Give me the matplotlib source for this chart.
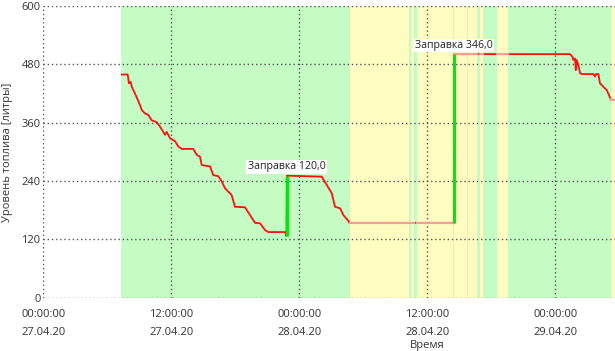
import numpy as np
import matplotlib
matplotlib.use("Agg")
import matplotlib.pyplot as plt
import matplotlib.transforms as mtransforms

plt.rcParams["font.family"] = ["Open Sans", "DejaVu Sans"]

# fuel level, hours since 27.04.20 00:00 -> litres
fuel_h = [7.35, 7.91, 8.03, 8.19, 8.29, 8.66, 9.07, 9.23, 9.53, 9.84, 10.16,
          10.63, 10.94, 11.41, 11.57, 11.88, 12.35, 12.66, 12.98, 14.06, 14.38,
          14.69, 14.85, 15.63, 15.94, 16.41, 16.73, 17.04, 17.35, 17.66, 17.97,
          18.91, 19.38, 19.85, 20.32, 20.79, 21.10, 22.66, 22.80,
          22.84, 26.10, 26.57, 27.04, 27.35, 27.82, 28.13, 28.60, 28.69,
          38.50, 38.52, 49.19, 49.38, 49.60, 49.69, 49.85, 49.92, 50.01,
          50.16, 50.32, 50.48, 51.57, 51.73, 51.82, 52.04, 52.19, 52.50,
          52.82, 52.97, 53.22, 53.44]
fuel_v = [459, 459, 441, 444, 434, 417, 396, 386, 379, 376, 365,
          361, 352, 335, 341, 328, 322, 311, 306, 306, 294,
          290, 273, 270, 252, 250, 239, 225, 218, 211, 187,
          186, 170, 154, 153, 139, 135, 135, 127,
          251, 249, 232, 215, 187, 184, 170, 158, 154,
          154, 501, 501, 501, 496, 489, 492, 468, 489,
          479, 462, 460, 460, 455, 460, 460, 441, 434,
          427, 420, 407, 407]

# refuelling events
refuel_h = [22.82, 38.51]
refuel_from = [127, 154]
refuel_to = [251, 501]
refuel_amount = [120.0, 346.0]

# movement (green) / parking (yellow) intervals, hours
yellow_spans = [(28.8, 43.6), (53.2, 53.7)]
green_spans = [(7.3, 28.8), (34.3, 34.5), (34.75, 35.0), (38.37, 38.46),
               (39.77, 39.86), (40.66, 40.94), (41.27, 42.54), (43.6, 53.2)]
# yellow minus green -> parked parts of the line
parked_spans = [(28.8, 34.3), (34.5, 34.75), (35.0, 38.37), (38.46, 39.77),
                (39.86, 40.66), (40.94, 41.27), (42.54, 43.6), (53.2, 53.5)]

tick_hours = [0, 12, 24, 36, 48]
tick_labels = ["00:00:00\n27.04.20", "12:00:00\n27.04.20", "00:00:00\n28.04.20",
               "12:00:00\n28.04.20", "00:00:00\n29.04.20"]
y_ticks = [0, 120, 240, 360, 480, 600]

TXT = "#333333"
fig = plt.figure(figsize=(6.15, 3.51), dpi=100)
ax = fig.add_axes([43.3 / 615, 1 - 297.7 / 351, 1 - 43.3 / 615, 291.7 / 351])

for a, b in yellow_spans:
    ax.axvspan(a, b, color="#fffcc2", lw=0, zorder=0)
for a, b in green_spans:
    ax.axvspan(a, b, color="#c4fcc4", lw=0, zorder=0.5)

h = np.array(fuel_h)
v = np.array(fuel_v, float)
ax.plot(h, v, color="#ff1010", lw=1.3, zorder=3)
for a, b in parked_spans:
    xs = np.concatenate([[a], h[(h > a) & (h < b)], [b]])
    ax.plot(xs, np.interp(xs, h, v), color="#ff9c9c", lw=1.5, zorder=3.5)

for x, lo, hi, amt in zip(refuel_h, refuel_from, refuel_to, refuel_amount):
    ax.plot([x, x], [lo, hi], color="#10e010", lw=2.4, zorder=4,
            solid_capstyle="butt")
    ax.text(x, hi + 18, f"Заправка {amt:.1f}".replace(".", ","),
            ha="center", va="center", fontsize=7.6, color="#222222", zorder=5,
            bbox=dict(facecolor="white", edgecolor="none", pad=1.0))

ax.set_xlim(0, (615 - 43.3) / 10.666)
ax.set_ylim(0, 600)
ax.set_xticks(tick_hours)
ax.set_xticklabels(tick_labels, linespacing=1.95)
ax.set_yticks(y_ticks)
ax.tick_params(axis="both", length=0, labelsize=8, colors=TXT)
ax.tick_params(axis="x", pad=8)
ax.tick_params(axis="y", pad=2)
for s in ax.spines.values():
    s.set_visible(False)
ax.grid(True, color="#555555", linestyle=(0, (1, 2)), lw=1)

ax.set_ylabel("Уровень топлива [литры]", fontsize=8, color=TXT, labelpad=6)
trans = mtransforms.blended_transform_factory(ax.transData, ax.transAxes)
ax.text(36, -0.163, "Время", transform=trans, ha="center", va="center",
        fontsize=8, color=TXT)

fig.savefig("out.png", dpi=100)
